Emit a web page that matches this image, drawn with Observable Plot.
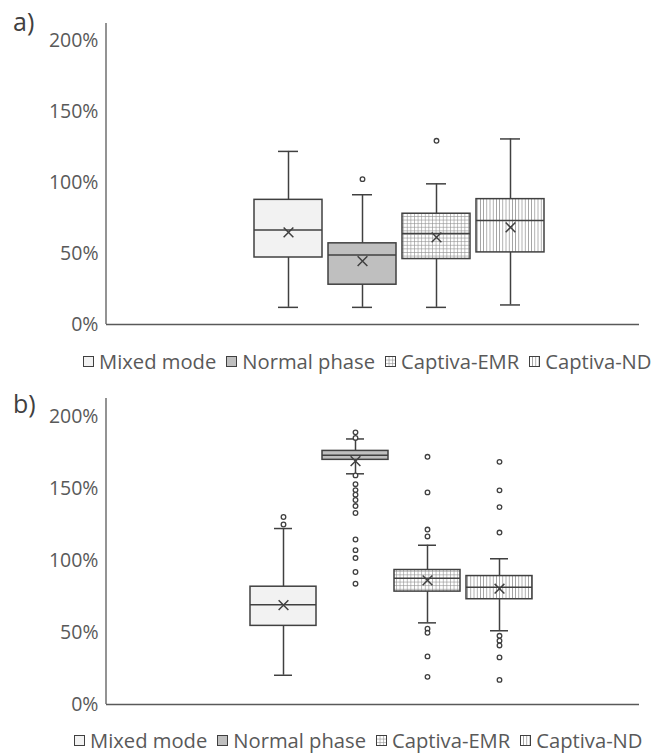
<!DOCTYPE html>
<html>
<head>
<meta charset="utf-8">
<script src="https://cdn.jsdelivr.net/npm/d3@7"></script>
<script src="https://cdn.jsdelivr.net/npm/@observablehq/plot@0.6"></script>
<style>
  html, body { margin: 0; padding: 0; background: #fff; }
  body { width: 659px; height: 753px; position: relative; overflow: hidden; font-family: "Open Sans", sans-serif; color: #595959; }
  .abs { position: absolute; }
  .plabel { font-size: 25px; color: #404040; }
  .legend { display: flex; align-items: center; font-size: 20.2px; white-space: nowrap; color: #595959; }
  .legend .item { display: flex; align-items: center; margin-right: 10px; }
  .legend svg { margin-right: 5px; }
  svg { overflow: visible; }
</style>
</head>
<body>
<svg width="0" height="0" style="position:absolute">
  <defs>
    <pattern id="pEMR" patternUnits="userSpaceOnUse" width="3.6" height="3.6">
      <rect width="3.6" height="3.6" fill="#ffffff"/>
      <line x1="0.3" y1="0" x2="0.3" y2="3.6" stroke="#8c8c8c" stroke-width="0.7"/>
      <line x1="0" y1="0.3" x2="3.6" y2="0.3" stroke="#8c8c8c" stroke-width="0.7"/>
    </pattern>
    <pattern id="pND" patternUnits="userSpaceOnUse" width="3.2" height="10">
      <rect width="3.2" height="10" fill="#ffffff"/>
      <line x1="0.4" y1="0" x2="0.4" y2="10" stroke="#8c8c8c" stroke-width="0.8"/>
    </pattern>
  </defs>
</svg>
<div id="chartA" class="abs" style="left:0; top:0;"></div>
<div id="chartB" class="abs" style="left:0; top:380px;"></div>
<div id="la" class="abs plabel" style="left:13px; top:4px;">a)</div>
<div id="lb" class="abs plabel" style="left:13px; top:386px;">b)</div>
<div id="legA" class="abs legend" style="left:83px; top:347px;"></div>
<div id="legB" class="abs legend" style="left:74px; top:726px;"></div>
<script>
// ---- data ----
const series = ["Mixed mode", "Normal phase", "Captiva-EMR", "Captiva-ND"];
const yTicks = [0, 0.5, 1, 1.5, 2];

// panel a (fractions, 1 = 100%)
const aLow    = [0.121, 0.121, 0.121, 0.138];
const aQ1     = [0.473, 0.281, 0.462, 0.509];
const aMedian = [0.667, 0.490, 0.643, 0.735];
const aQ3     = [0.880, 0.573, 0.782, 0.885];
const aHigh   = [1.222, 0.916, 0.993, 1.310];
const aMean   = [0.650, 0.448, 0.615, 0.686];
const aOutliers = [[], [1.026], [1.297], []];

// panel b
const bLow    = [0.203, 1.602, 0.567, 0.512];
const bQ1     = [0.546, 1.699, 0.784, 0.731];
const bMedian = [0.692, 1.731, 0.876, 0.814];
const bQ3     = [0.818, 1.761, 0.934, 0.892];
const bHigh   = [1.222, 1.844, 1.106, 1.012];
const bMean   = [0.690, 1.690, 0.862, 0.804];
const bOutliers = [
  [1.302, 1.250],
  [1.890, 1.851, 1.591, 1.530, 1.489, 1.457, 1.420, 1.378, 1.330, 1.146, 1.072, 1.017, 0.920, 0.839],
  [1.720, 1.473, 1.215, 1.167, 0.526, 0.498, 0.334, 0.192],
  [1.685, 1.487, 1.371, 1.194, 0.477, 0.443, 0.410, 0.327, 0.171]
];

// ---- styles ----
const fills = {
  "Mixed mode": "#f2f2f2",
  "Normal phase": "#bfbfbf",
  "Captiva-EMR": "url(#pEMR)",
  "Captiva-ND": "url(#pND)"
};
const ink = "#404040";
const axisInk = "#595959";

function buildStats(low, q1, med, q3, high, mean) {
  return series.map((s, i) => ({series: s, low: low[i], q1: q1[i], median: med[i], q3: q3[i], high: high[i], mean: mean[i], fill: fills[s]}));
}
function buildOutliers(outs) {
  return series.flatMap((s, i) => outs[i].map(v => ({series: s, v})));
}

function panel(stats, outs, opts) {
  return Plot.plot({
    width: 659,
    height: opts.height,
    marginLeft: 106,
    marginRight: 20,
    marginTop: opts.marginTop,
    marginBottom: opts.marginBottom,
    style: {fontFamily: "'Open Sans', sans-serif", fontSize: "19.5px", color: axisInk, background: "transparent", overflow: "visible"},
    x: {type: "band", domain: series, range: opts.xRange, paddingInner: 0.08, paddingOuter: 0.04, axis: null},
    y: {domain: [0, 2.125], ticks: yTicks, tickFormat: d => Math.round(d * 100) + "%", tickSize: 0, tickPadding: 8, label: null},
    color: {type: "identity"},
    marks: [
      // axis lines
      (index, scales, values, dims) => {
        const g = d3.create("svg:g");
        g.append("line")
          .attr("x1", dims.marginLeft).attr("x2", dims.marginLeft)
          .attr("y1", scales.y(0)).attr("y2", scales.y(2.125))
          .attr("stroke", axisInk).attr("stroke-width", 1.3);
        return g.node();
      },
      Plot.ruleY([0], {stroke: axisInk, strokeWidth: 1.6}),
      // whiskers
      Plot.ruleX(stats, {x: "series", y1: "low", y2: "q1", stroke: ink, strokeWidth: 1.5}),
      Plot.ruleX(stats, {x: "series", y1: "q3", y2: "high", stroke: ink, strokeWidth: 1.5}),
      Plot.tickY(stats, {x: "series", y: "low", stroke: ink, strokeWidth: 1.5, insetLeft: 24, insetRight: 24}),
      Plot.tickY(stats, {x: "series", y: "high", stroke: ink, strokeWidth: 1.5, insetLeft: 24, insetRight: 24}),
      // boxes
      Plot.barY(stats, {x: "series", y1: "q1", y2: "q3", fill: "fill", stroke: ink, strokeWidth: 1.5}),
      Plot.tickY(stats, {x: "series", y: "median", stroke: ink, strokeWidth: 1.5}),
      // means
      Plot.dot(stats, {x: "series", y: "mean", symbol: "times", r: 4.5, stroke: ink, strokeWidth: 1.5}),
      // outliers
      Plot.dot(outs, {x: "series", y: "v", r: 2.3, stroke: ink, strokeWidth: 1.3, fill: "#ffffff"})
    ]
  });
}

const statsA = buildStats(aLow, aQ1, aMedian, aQ3, aHigh, aMean);
const statsB = buildStats(bLow, bQ1, bMedian, bQ3, bHigh, bMean);

document.getElementById("chartA").append(
  panel(statsA, buildOutliers(aOutliers), {height: 345, marginTop: 23, marginBottom: 21, xRange: [251, 547]})
);
document.getElementById("chartB").append(
  panel(statsB, buildOutliers(bOutliers), {height: 344, marginTop: 18, marginBottom: 20, xRange: [247, 535]})
);

function legend(el) {
  series.forEach(s => {
    const item = document.createElement("div");
    item.className = "item";
    const sw = d3.create("svg").attr("width", 11).attr("height", 11);
    sw.append("rect").attr("x", 0.5).attr("y", 0.5).attr("width", 10).attr("height", 10)
      .attr("fill", fills[s]).attr("stroke", ink).attr("stroke-width", 1);
    item.append(sw.node());
    const t = document.createElement("span");
    t.textContent = s;
    item.append(t);
    el.append(item);
  });
}
legend(document.getElementById("legA"));
legend(document.getElementById("legB"));
</script>
</body>
</html>
